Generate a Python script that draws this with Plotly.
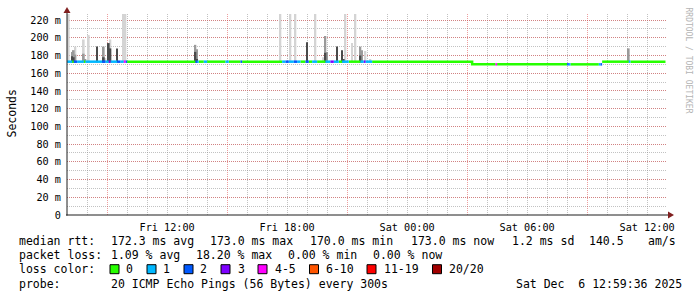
import plotly.graph_objects as go
import pandas as pd

# ---------------- data ----------------
t_start = "2025-12-05 06:59:36"
t_end = "2025-12-06 12:59:36"
first_sample = "2025-12-05 07:00"
last_sample = "2025-12-06 12:50"

# median rtt (ms), step changes
median_from = ["2025-12-05 07:00", "2025-12-06 03:15", "2025-12-06 09:45"]
median_ms = [173.0, 170.0, 173.0]

# lost pings per 5-minute sample (runs; everything else is 0)
loss_from = ["2025-12-05 07:00", "2025-12-05 07:20", "2025-12-05 07:30", "2025-12-05 07:55",
             "2025-12-05 08:45", "2025-12-05 08:55", "2025-12-05 09:05", "2025-12-05 09:10",
             "2025-12-05 09:30", "2025-12-05 09:40", "2025-12-05 09:50", "2025-12-05 09:55",
             "2025-12-05 13:25", "2025-12-05 13:30", "2025-12-05 13:50", "2025-12-05 14:55",
             "2025-12-05 15:40", "2025-12-05 17:45", "2025-12-05 17:55", "2025-12-05 18:05",
             "2025-12-05 18:20", "2025-12-05 18:30", "2025-12-05 18:55", "2025-12-05 19:15",
             "2025-12-05 19:55", "2025-12-05 20:10", "2025-12-05 20:20", "2025-12-05 20:45",
             "2025-12-05 21:40", "2025-12-05 21:50", "2025-12-05 21:55", "2025-12-06 04:25",
             "2025-12-06 08:00", "2025-12-06 08:05", "2025-12-06 09:35", "2025-12-06 09:40",
             "2025-12-06 11:05"]
loss_to = ["2025-12-05 07:15", "2025-12-05 07:30", "2025-12-05 07:50", "2025-12-05 08:45",
           "2025-12-05 08:55", "2025-12-05 09:05", "2025-12-05 09:10", "2025-12-05 09:30",
           "2025-12-05 09:40", "2025-12-05 09:50", "2025-12-05 09:55", "2025-12-05 10:00",
           "2025-12-05 13:30", "2025-12-05 13:35", "2025-12-05 14:00", "2025-12-05 15:05",
           "2025-12-05 15:45", "2025-12-05 17:55", "2025-12-05 18:05", "2025-12-05 18:20",
           "2025-12-05 18:30", "2025-12-05 18:40", "2025-12-05 19:05", "2025-12-05 19:30",
           "2025-12-05 20:10", "2025-12-05 20:20", "2025-12-05 20:35", "2025-12-05 21:05",
           "2025-12-05 21:50", "2025-12-05 21:55", "2025-12-05 22:15", "2025-12-06 04:30",
           "2025-12-06 08:05", "2025-12-06 08:10", "2025-12-06 09:40", "2025-12-06 09:45",
           "2025-12-06 11:10"]
loss_count = [1, 2, 1, 1, 2, 1, 3, 1, 2, 1, 4, 2,
              2, 1, 1, 1, 2, 1, 2, 1, 2, 1, 2, 1,
              1, 3, 1, 1, 1, 3, 1, 4, 2, 1, 1, 2, 1]

# smoke (ping spread) spikes: time, top of spread (ms), shade 0=light 1=mid 2=dark
smoke_time = ["2025-12-05 07:05", "2025-12-05 07:15", "2025-12-05 07:15", "2025-12-05 07:20",
              "2025-12-05 07:20", "2025-12-05 07:25", "2025-12-05 07:25", "2025-12-05 07:50",
              "2025-12-05 07:50", "2025-12-05 07:55", "2025-12-05 08:05", "2025-12-05 08:30",
              "2025-12-05 08:50", "2025-12-05 08:50", "2025-12-05 08:55", "2025-12-05 09:05",
              "2025-12-05 09:10", "2025-12-05 09:10", "2025-12-05 09:30", "2025-12-05 09:50",
              "2025-12-05 09:55", "2025-12-05 13:25", "2025-12-05 13:25", "2025-12-05 13:30",
              "2025-12-05 13:30", "2025-12-05 17:40", "2025-12-05 18:10", "2025-12-05 18:25",
              "2025-12-05 19:00", "2025-12-05 19:25", "2025-12-05 19:50", "2025-12-05 19:55",
              "2025-12-05 19:55", "2025-12-05 20:00", "2025-12-05 20:30", "2025-12-05 20:45",
              "2025-12-05 20:50", "2025-12-05 20:55", "2025-12-05 21:15", "2025-12-05 21:25",
              "2025-12-05 21:40", "2025-12-05 21:40", "2025-12-05 21:45", "2025-12-05 21:55",
              "2025-12-05 22:10", "2025-12-06 11:05"]
smoke_top = [227, 184, 179, 186, 178, 190, 181, 198,
             182, 176, 203, 190, 190, 178, 177, 194,
             198, 188, 188, 227, 227, 192, 184, 187,
             176, 227, 227, 227, 195, 227, 178, 202,
             183, 184, 190, 186, 176, 227, 194, 227,
             190, 180, 186, 185, 176, 188]
smoke_shade = [0, 1, 2, 1, 2, 0, 1, 0,
               1, 1, 0, 2, 1, 2, 0, 2,
               0, 2, 2, 0, 0, 1, 2, 1,
               2, 0, 0, 0, 2, 0, 0, 1,
               2, 1, 2, 2, 2, 0, 0, 0,
               1, 2, 1, 0, 0, 1]

loss_labels = ["0", "1", "2", "3", "4-5", "6-10", "11-19", "20/20"]
loss_colors = ["#26ff00", "#00b8ff", "#0059ff", "#7e00ff", "#ff00ff", "#ff5500", "#ff0000", "#a10000"]
loss_upper = [0, 1, 2, 3, 5, 10, 19, 20]

tick_times = ["2025-12-05 12:00", "2025-12-05 18:00", "2025-12-06 00:00",
              "2025-12-06 06:00", "2025-12-06 12:00"]
tick_text = ["Fri 12:00", "Fri 18:00", "Sat 00:00", "Sat 06:00", "Sat 12:00"]
y_ticks = [0, 20, 40, 60, 80, 100, 120, 140, 160, 180, 200, 220]
y_text = ["0"] + [f"{v} m" for v in y_ticks[1:]]

# ---------------- geometry ----------------
W, H = 697, 297
L, R, T, B = 67, 30, 14, 82
PW, PH = W - L - R, H - T - B
Y_TOP = 226.8

def xp(px):
    return (px - L) / PW

def yp(py):
    return (H - B - py) / PH

FONT = "DejaVu Sans Mono"
LEG = 11.5
GRID = "rgba(143,143,143,0.55)"
MGRID = "rgba(222,79,79,0.55)"
DASH = "1px,1px"

# ---------------- build series ----------------
samples = pd.date_range(first_sample, last_sample, freq="5min")
mf = pd.to_datetime(median_from)
med = []
for s in samples:
    v = median_ms[0]
    for f, m in zip(mf, median_ms):
        if s >= f:
            v = m
    med.append(v)

cnt = [0] * len(samples)
for f, to, c in zip(pd.to_datetime(loss_from), pd.to_datetime(loss_to), loss_count):
    for i, s in enumerate(samples):
        if f <= s < to:
            cnt[i] = c

def level(c):
    for k, u in enumerate(loss_upper):
        if c <= u:
            return k
    return len(loss_upper) - 1

lev = [level(c) for c in cnt]
step = pd.Timedelta(minutes=5)

fig = go.Figure()

# smoke
shade_cols = ["#d4d4d4", "#9a9a9a", "#4a4a4a"]
st = pd.to_datetime(smoke_time)
for sh in range(3):
    xs, bs, hs = [], [], []
    for tt, top, sd in zip(st, smoke_top, smoke_shade):
        if sd != sh:
            continue
        base = med[0]
        for s, m in zip(samples, med):
            if s <= tt:
                base = m
        xs.append(tt)
        bs.append(base - 1)
        hs.append(top - base + 1)
    fig.add_trace(go.Bar(x=xs, y=hs, base=bs, width=300000,
                         marker=dict(color=shade_cols[sh], line=dict(width=0)),
                         showlegend=False, hoverinfo="skip", xaxis="x", yaxis="y"))

# median line coloured by loss
for k in range(len(loss_colors)):
    xs, ys = [], []
    i = 0
    n = len(samples)
    while i < n:
        if lev[i] != k:
            i += 1
            continue
        j = i
        while j + 1 < n and lev[j + 1] == k:
            j += 1
        for q in range(i, j + 1):
            xs.append(samples[q])
            ys.append(med[q])
        xs.append(samples[j] + step)
        ys.append(med[j])
        xs.append(None)
        ys.append(None)
        i = j + 1
    if xs:
        fig.add_trace(go.Scatter(x=xs, y=ys, mode="lines", line=dict(color=loss_colors[k], width=2.5, shape="hv"),
                                 connectgaps=False, showlegend=False, hoverinfo="skip",
                                 xaxis="x2", yaxis="y"))

# ---------------- layout ----------------
fig.update_layout(
    width=W, height=H,
    margin=dict(l=L, r=R, t=T, b=B, autoexpand=False),
    paper_bgcolor="white", plot_bgcolor="white",
    barmode="overlay", showlegend=False,
    font=dict(family=FONT, color="black"),
    xaxis=dict(type="date", range=[t_start, t_end], tick0="2025-12-05 09:00", dtick=21600000,
               showticklabels=False, ticks="", showgrid=True, gridcolor=MGRID, griddash=DASH, gridwidth=1,
               minor=dict(dtick=3600000, tick0="2025-12-05 09:00", showgrid=True, gridcolor=GRID,
                          griddash=DASH, gridwidth=1),
               showline=False, zeroline=False, fixedrange=True),
    xaxis2=dict(type="date", overlaying="x", anchor="y", side="bottom", range=[t_start, t_end],
                tickmode="array", tickvals=tick_times, ticktext=tick_text,
                ticks="outside", ticklen=3, tickcolor="rgba(0,0,0,0)",
                tickfont=dict(family=FONT, size=10.2, color="black"),
                showgrid=False, showline=False, zeroline=False),
    yaxis=dict(range=[0, Y_TOP], tickmode="array", tickvals=y_ticks, ticktext=y_text, ticks="",
               tickfont=dict(family=FONT, size=10.2, color="black"), ticklabelstandoff=5,
               showgrid=True, gridcolor=MGRID, griddash=DASH, gridwidth=1,
               minor=dict(dtick=10, tick0=0, showgrid=True, gridcolor=GRID, griddash=DASH, gridwidth=1),
               showline=False, zeroline=False),
)

shapes = []
# axes with arrows
shapes.append(dict(type="line", xref="paper", yref="paper", x0=xp(66), x1=xp(669), y0=yp(215), y1=yp(215),
                   line=dict(color="#1f1f1f", width=1)))
shapes.append(dict(type="line", xref="paper", yref="paper", x0=xp(67), x1=xp(67), y0=yp(215.5), y1=yp(12),
                   line=dict(color="#1f1f1f", width=1)))
shapes.append(dict(type="path", xref="paper", yref="paper",
                   path=f"M {xp(668)} {yp(211.5)} L {xp(674)} {yp(215)} L {xp(668)} {yp(218.5)} Z",
                   fillcolor="#801f1f", line=dict(width=0)))
shapes.append(dict(type="path", xref="paper", yref="paper",
                   path=f"M {xp(63.5)} {yp(13)} L {xp(67)} {yp(7)} L {xp(70.5)} {yp(13)} Z",
                   fillcolor="#801f1f", line=dict(width=0)))

# legend swatches
sw_x = [110, 147, 184, 221, 258, 309.5, 367, 432.5]
lab_x = [124, 161.3, 198.4, 235.5, 272.6, 324, 381.7, 446.8]
ROW = [241.3, 255.3, 269.2, 283.5]
for sx, c in zip(sw_x, loss_colors):
    shapes.append(dict(type="rect", xref="paper", yref="paper", x0=xp(sx), x1=xp(sx + 9),
                       y0=yp(ROW[2] - 4.5), y1=yp(ROW[2] + 4.5), fillcolor=c,
                       line=dict(color="black", width=1)))
fig.update_layout(shapes=shapes)

ann = []
def text(px, py, s, size=LEG, color="black", anchor="left", angle=0, yanchor="middle"):
    ann.append(dict(x=xp(px), y=yp(py), xref="paper", yref="paper", text=s, showarrow=False,
                    xanchor=anchor, yanchor=yanchor, textangle=angle,
                    font=dict(family=FONT, size=size, color=color)))

row1 = [(16.5, "median rtt:"), (108.6, "172.3 ms avg"), (207.8, "173.0 ms max"), (308.3, "170.0 ms min"),
        (408.8, "173.0 ms now"), (510, "1.2 ms sd"), (587, "140.5"), (645.7, "am/s")]
for px, s in row1:
    text(px, ROW[0], s)
row2 = [(16.5, "packet loss:"), (108.6, "1.09 % avg"), (193.5, "18.20 % max"), (285.5, "0.00 % min"),
        (370.5, "0.00 % now")]
for px, s in row2:
    text(px, ROW[1], s)
text(16.5, ROW[2], "loss color:")
for px, s in zip(lab_x, loss_labels):
    text(px, ROW[2], s)
text(16.5, ROW[3], "probe:")
text(108.6, ROW[3], "20 ICMP Echo Pings (56 Bytes) every 300s")
text(514, ROW[3], "Sat Dec\u00a0\u00a06 12:59:36 2025")

text(11.5, 114, "Seconds", angle=-90, anchor="center")
text(687.5, 60, "RRDTOOL / TOBI OETIKER", size=8, color="#b4b4b4", angle=90, anchor="center")

fig.update_layout(annotations=ann)
fig.write_html("out.html")
